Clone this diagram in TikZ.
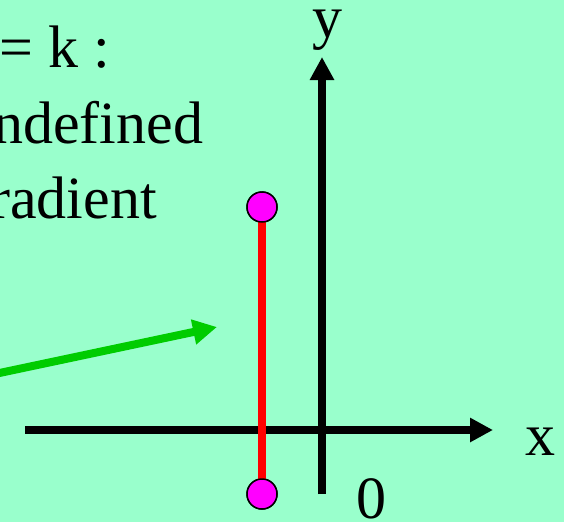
\documentclass[tikz,border=0pt]{standalone}
\usepackage{fontspec}
\setmainfont{Liberation Serif}
\usetikzlibrary{arrows.meta}
\definecolor{bgmint}{RGB}{153,255,204}
\definecolor{arrowgreen}{RGB}{0,204,0}
\definecolor{dotmag}{RGB}{255,0,255}
\begin{document}
\begin{tikzpicture}[x=1pt,y=-1pt,
  axis/.style={line width=7.5pt,-{Triangle[length=23pt,width=23pt]}},
  lbl/.style={inner sep=0pt,anchor=base,font=\fontsize{60}{72}\selectfont},
  txt/.style={inner sep=0pt,anchor=base west,font=\fontsize{60}{72}\selectfont},
  dot/.style={circle,draw=black,line width=1.5pt,fill=dotmag,minimum size=30pt,inner sep=0pt},
  seg/.style={line width=8pt,draw=red},
  pointer/.style={line width=8pt,draw=arrowgreen,-{Triangle[length=24pt,width=24pt]}}]
\fill[bgmint] (0,0) rectangle (564,522);
\useasboundingbox (0,0) rectangle (564,522);
\clip (0,0) rectangle (564,522);
% text
\node[txt] (t1) at (-1,67) {= k :};
\node[txt] (t2) at (-7,143) {ndefined};
\node[txt] (t3) at (-10,218) {radient};
% axes
\coordinate (xs) at (25,430);
\coordinate (xe) at (493,430);
\coordinate (ys) at (322,494);
\coordinate (ye) at (322,57);
\draw[axis] (xs) -- (xe);
\draw[axis] (ys) -- (ye);
\node[lbl] (xl) at (540,455) {x};
\node[lbl] (yl) at (327,37) {y};
\node[lbl] (ol) at (371,518) {0};
% segment
\node[dot] (p1) at (262,207) {};
\node[dot] (p2) at (262,494) {};
\draw[seg] (p1.center) -- (p2.center);
\node[dot] at (p1) {};
\node[dot] at (p2) {};
% green pointer
\coordinate (gs) at (-10,375);
\coordinate (ge) at (217,327);
\draw[pointer] (gs) -- (ge);
\end{tikzpicture}
\end{document}
